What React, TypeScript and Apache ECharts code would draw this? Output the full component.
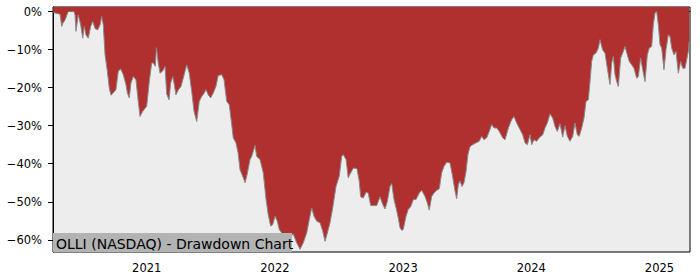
import React, { useEffect, useRef } from "react";
import * as echarts from "echarts";

const chartTitle = "OLLI (NASDAQ) - Drawdown Chart";

// decimal year of each sample
const years = [
  2020.270, 2020.277, 2020.300, 2020.324, 2020.337, 2020.347, 2020.363, 2020.388, 2020.415, 2020.433,
  2020.441, 2020.448, 2020.466, 2020.485, 2020.501, 2020.513, 2020.526, 2020.544, 2020.563, 2020.579,
  2020.597, 2020.618, 2020.636, 2020.649, 2020.661, 2020.675, 2020.693, 2020.708, 2020.721, 2020.739,
  2020.760, 2020.778, 2020.797, 2020.817, 2020.838, 2020.849, 2020.864, 2020.877, 2020.895, 2020.916,
  2020.934, 2020.948, 2020.969, 2021.000, 2021.020, 2021.039, 2021.051, 2021.067, 2021.076, 2021.090,
  2021.104, 2021.125, 2021.143, 2021.156, 2021.174, 2021.187, 2021.203, 2021.215, 2021.228, 2021.246,
  2021.267, 2021.285, 2021.312, 2021.332, 2021.351, 2021.369, 2021.390, 2021.410, 2021.429, 2021.449,
  2021.462, 2021.480, 2021.499, 2021.519, 2021.540, 2021.558, 2021.585, 2021.603, 2021.624, 2021.644,
  2021.663, 2021.675, 2021.696, 2021.712, 2021.728, 2021.751, 2021.767, 2021.782, 2021.806, 2021.819,
  2021.845, 2021.858, 2021.884, 2021.909, 2021.931, 2021.948, 2021.967, 2021.983, 2022.001, 2022.019,
  2022.034, 2022.053, 2022.079, 2022.102, 2022.126, 2022.143, 2022.170, 2022.196, 2022.221, 2022.248,
  2022.268, 2022.287, 2022.305, 2022.326, 2022.352, 2022.373, 2022.391, 2022.409, 2022.430, 2022.451,
  2022.477, 2022.502, 2022.521, 2022.533, 2022.555, 2022.572, 2022.591, 2022.613, 2022.640, 2022.658,
  2022.669, 2022.689, 2022.711, 2022.728, 2022.747, 2022.767, 2022.794, 2022.820, 2022.841, 2022.859,
  2022.877, 2022.898, 2022.911, 2022.929, 2022.945, 2022.962, 2022.976, 2022.989, 2023.001, 2023.023,
  2023.040, 2023.059, 2023.080, 2023.101, 2023.126, 2023.145, 2023.171, 2023.189, 2023.204, 2023.223,
  2023.241, 2023.262, 2023.282, 2023.301, 2023.319, 2023.340, 2023.366, 2023.384, 2023.405, 2023.418,
  2023.431, 2023.444, 2023.459, 2023.475, 2023.491, 2023.506, 2023.522, 2023.543, 2023.569, 2023.594,
  2023.613, 2023.631, 2023.652, 2023.672, 2023.691, 2023.709, 2023.730, 2023.750, 2023.777, 2023.795,
  2023.821, 2023.847, 2023.865, 2023.886, 2023.912, 2023.933, 2023.951, 2023.969, 2023.990, 2024.003,
  2024.021, 2024.042, 2024.062, 2024.089, 2024.107, 2024.125, 2024.146, 2024.167, 2024.185, 2024.203,
  2024.224, 2024.245, 2024.263, 2024.281, 2024.302, 2024.323, 2024.341, 2024.359, 2024.374, 2024.393,
  2024.411, 2024.427, 2024.445, 2024.458, 2024.471, 2024.484, 2024.505, 2024.523, 2024.536, 2024.557,
  2024.575, 2024.593, 2024.614, 2024.627, 2024.640, 2024.653, 2024.666, 2024.679, 2024.697, 2024.713,
  2024.731, 2024.749, 2024.764, 2024.783, 2024.801, 2024.822, 2024.835, 2024.853, 2024.869, 2024.887,
  2024.905, 2024.920, 2024.939, 2024.952, 2024.965, 2024.978, 2024.991, 2025.004, 2025.017, 2025.035,
  2025.051, 2025.069, 2025.082, 2025.095, 2025.113, 2025.129, 2025.147, 2025.165, 2025.181, 2025.199,
  2025.212, 2025.225, 2025.232,
];

// drawdown in percent
const drawdown = [
  0, -0.3, -0.5, -0.7, -3.9, -3.0, -2.2, 0, 0, 0,
  -1.0, -5.2, -0.9, -3.5, -7.0, -3.9, -6.1, -7.0, -3.9, -2.6,
  -4.5, -4.8, -3.5, -1.3, -3.5, -11.4, -15.7, -20.1, -22.0, -21.4,
  -20.5, -15.7, -15.1, -16.6, -19.2, -21.4, -22.7, -18.8, -17.1, -17.9,
  -23.6, -27.6, -26.2, -24.9, -18.4, -13.5, -13.5, -14.4, -9.5, -13.5,
  -16.2, -15.6, -14.4, -21.7, -23.2, -18.8, -17.1, -19.2, -21.9, -20.6,
  -19.7, -17.5, -14.0, -16.2, -21.0, -26.2, -28.9, -23.6, -22.3, -21.4,
  -20.5, -21.9, -22.7, -21.4, -19.7, -16.8, -16.6, -17.9, -23.6, -24.5,
  -29.7, -33.2, -34.5, -37.0, -41.6, -43.5, -45.0, -43.0, -38.9, -38.1,
  -35.2, -38.1, -38.9, -42.4, -49.4, -53.4, -56.4, -56.0, -53.8, -55.1,
  -57.3, -58.2, -59.5, -60.5, -59.0, -58.5, -60.8, -62.5, -60.8, -58.2,
  -54.7, -51.6, -53.8, -55.1, -55.5, -57.7, -60.4, -58.2, -55.5, -51.6,
  -45.9, -43.3, -38.1, -37.6, -38.9, -43.7, -42.4, -41.1, -41.3, -44.6,
  -48.7, -49.0, -47.5, -47.7, -51.0, -51.0, -51.0, -48.7, -50.7, -51.9,
  -49.9, -45.9, -45.2, -49.4, -51.6, -54.2, -56.8, -57.5, -57.3, -53.8,
  -52.0, -51.3, -49.4, -49.4, -47.7, -47.0, -48.6, -50.3, -52.2, -48.6,
  -47.7, -47.0, -46.6, -42.4, -40.7, -39.6, -39.8, -42.9, -47.2, -49.2,
  -45.5, -44.5, -46.0, -45.0, -42.0, -37.5, -35.5, -35.0, -34.5, -34.1,
  -32.8, -33.7, -33.2, -31.5, -29.7, -30.6, -30.6, -31.5, -33.2, -33.7,
  -30.6, -28.4, -27.6, -29.3, -31.0, -32.4, -34.5, -35.0, -32.4, -35.0,
  -33.7, -34.1, -33.2, -32.4, -30.6, -29.3, -26.9, -28.0, -30.2, -31.5,
  -29.5, -33.0, -30.0, -32.8, -34.1, -32.8, -29.3, -32.4, -32.8, -30.6,
  -28.0, -23.6, -23.2, -18.4, -13.1, -11.4, -10.9, -9.6, -7.4, -10.1,
  -10.9, -14.9, -19.2, -13.5, -11.8, -16.6, -18.4, -19.7, -12.2, -10.9,
  -9.2, -11.4, -13.1, -14.0, -14.9, -17.5, -17.1, -12.2, -15.3, -18.4,
  -11.4, -9.6, -9.2, -3.5, -0.4, 0, -3.5, -8.7, -9.6, -15.3,
  -10.0, -6.1, -6.6, -9.6, -11.4, -10.5, -16.2, -13.1, -14.9, -14.9,
  -12.7, -10.5, -7.9,
];

const yearTicks = [2021, 2022, 2023, 2024, 2025];
const pctTicks = [0, -10, -20, -30, -40, -50, -60];

const FONT = "DejaVu Sans";

export default function App() {
  const ref = useRef<HTMLDivElement>(null);

  useEffect(() => {
    document.body.style.margin = "0";
    if (!ref.current) return;
    const chart = echarts.init(ref.current, undefined, { renderer: "svg" });
    const data = years.map((y, i) => [y, drawdown[i]]);
    chart.setOption({
      animation: false,
      grid: {
        left: 53,
        top: 7,
        right: 10,
        bottom: 28,
        show: true,
        backgroundColor: "#ededed",
        borderColor: "#000",
        borderWidth: 1,
      },
      xAxis: {
        type: "value",
        min: 2020.269,
        max: 2025.238,
        splitLine: { show: false },
        axisLine: { show: true, lineStyle: { color: "#000", width: 1 } },
        axisTick: {
          show: true,
          length: 5,
          customValues: yearTicks,
          lineStyle: { color: "#000", width: 1 },
        },
        axisLabel: {
          customValues: yearTicks,
          margin: 10,
          color: "#000",
          fontFamily: FONT,
          fontSize: 11.5,
          formatter: (v: number) => String(Math.round(v)),
        },
      },
      yAxis: {
        type: "value",
        min: -63.2,
        max: 1.2,
        splitLine: { show: false },
        axisLine: { show: true, lineStyle: { color: "#000", width: 1 } },
        axisTick: {
          show: true,
          length: 5,
          customValues: pctTicks,
          lineStyle: { color: "#000", width: 1 },
        },
        axisLabel: {
          customValues: pctTicks,
          margin: 11,
          color: "#000",
          fontFamily: FONT,
          fontSize: 11.5,
          formatter: (v: number) =>
            (v < 0 ? "\u2212" + Math.abs(Math.round(v)) : String(Math.round(v))) + "%",
        },
      },
      series: [
        {
          type: "line",
          data,
          showSymbol: false,
          symbol: "none",
          lineStyle: { color: "#8a8a8a", width: 1 },
          areaStyle: { color: "#b03030", opacity: 1, origin: "end" },
          z: 2,
        },
      ],
      graphic: [
        {
          type: "rect",
          left: 53,
          top: 233,
          shape: { width: 239, height: 19 },
          style: { fill: "#b3b3b3" },
          z: 10,
        },
        {
          type: "text",
          x: 56,
          y: 244,
          style: {
            text: chartTitle,
            fill: "#000",
            font: `14px '${FONT}'`,
            textVerticalAlign: "middle",
            verticalAlign: "middle",
          },
          z: 11,
        },
      ],
    });
    return () => chart.dispose();
  }, []);

  return <div ref={ref} style={{ width: 700, height: 280 }} />;
}
